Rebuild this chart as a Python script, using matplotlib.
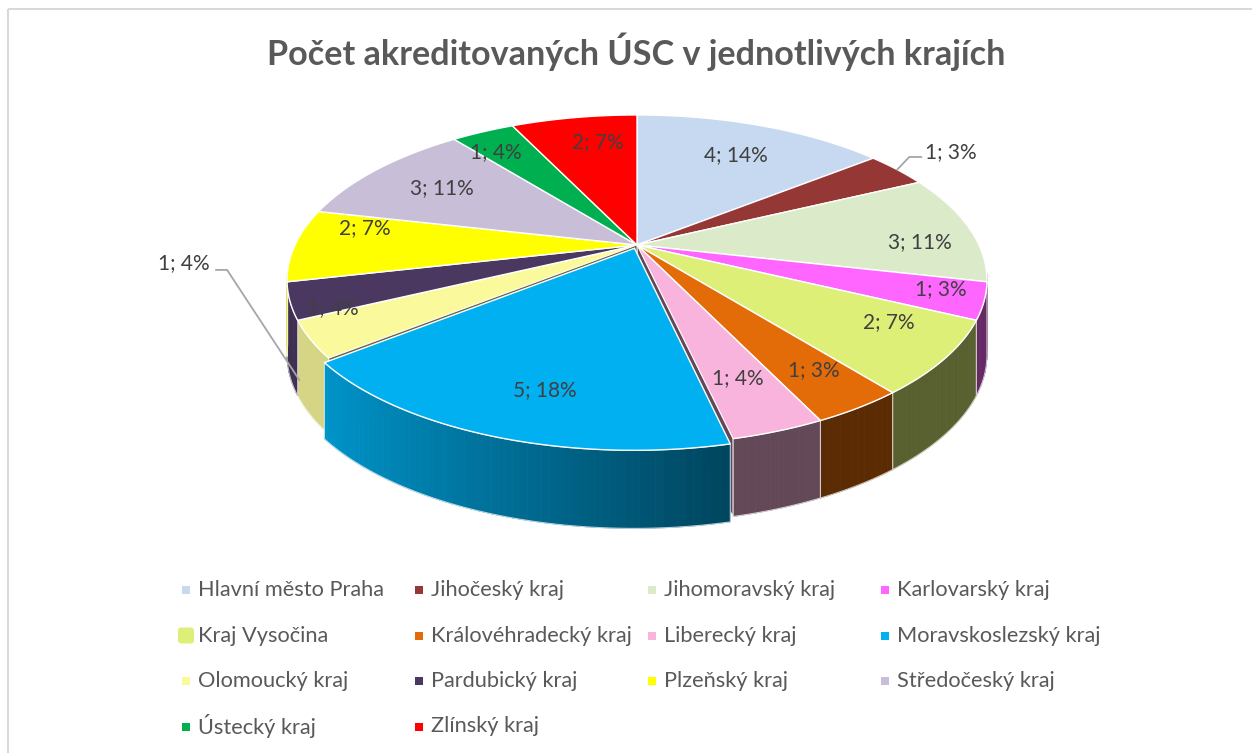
import numpy as np
import matplotlib.pyplot as plt
from matplotlib.patches import Polygon, Rectangle, FancyBboxPatch
from matplotlib.colors import to_rgb

# data
regions = ['Hlavní město Praha', 'Jihočeský kraj', 'Jihomoravský kraj', 'Karlovarský kraj',
           'Kraj Vysočina', 'Královéhradecký kraj', 'Liberecký kraj', 'Moravskoslezský kraj',
           'Olomoucký kraj', 'Pardubický kraj', 'Plzeňský kraj', 'Středočeský kraj',
           'Ústecký kraj', 'Zlínský kraj']
counts = [4, 1, 3, 1, 2, 1, 1, 5, 1, 1, 2, 3, 1, 2]
pct_shown = [14, 3, 11, 3, 7, 3, 4, 18, 4, 4, 7, 11, 4, 7]
colors = ['#C6D9F0', '#953735', '#DBEBC9', '#FF66FF', '#DEEF78', '#E36C09', '#F8B4DC',
          '#00B0F0', '#FAFA9C', '#4A3860', '#FFFF00', '#C8BED8', '#00B050', '#FF0000']
title = 'Počet akreditovaných ÚSC v jednotlivých krajích'

# layout (pixels)
W, H = 1252, 753
CX, CY = 637, 245
RX, RY = 342, 157.6
K = 0.212
T = 74
SIDE_RANGE = (99, 261)
exploded = {7: 0.022}
label_r = [0.73, 1.0, 0.83, 0.88, 0.80, 0.81, 0.76, 0.78, 1.0, 0.90, 0.82, 0.73, 0.82, 0.77]
label_da = [1, 0, 5, -2, -5, -1, 0, -3, 0, -5, 7.5, 0, -3, 3]
outside = {1: (1.176, 55.0, 'left'), 8: (1.224, 264.8, 'right')}

FONT = ['Lato', 'DejaVu Sans']
plt.rcParams['font.family'] = FONT


def proj(u, v, z=0.0):
    s = 1.0 / (1.0 - K * v)
    return CX + RX * u * s, CY + RY * v * s + z * T * (0.8 + 0.2 * s)


def rim(a_deg, r=1.0, off=(0, 0), z=0.0):
    a = np.radians(a_deg)
    return proj(off[0] + r * np.sin(a), off[1] - r * np.cos(a), z)


fig = plt.figure(figsize=(12.52, 7.53), dpi=100)
ax = fig.add_axes([0, 0, 1, 1])
ax.set_xlim(0, W)
ax.set_ylim(H, 0)
ax.axis('off')

ax.add_patch(Rectangle((8, 9), 1300, 800, fill=False, ec='#D9D9D9', lw=1.5))

total = sum(counts)
bounds = np.concatenate([[0], np.cumsum(counts)]) * 360.0 / total
offsets = []
for i in range(len(counts)):
    e = exploded.get(i, 0)
    m = np.radians((bounds[i] + bounds[i + 1]) / 2)
    offsets.append((e * np.sin(m), -e * np.cos(m)))


def side_face(i):
    off = offsets[i]
    lo, hi = max(bounds[i], SIDE_RANGE[0]), min(bounds[i + 1], SIDE_RANGE[1])
    if lo >= hi:
        return
    n = max(int(hi - lo), 2)
    angs = np.linspace(lo, hi, n + 1)
    base = np.array(to_rgb(colors[i]))
    for j in range(n):
        a0, a1 = angs[j], angs[j + 1]
        pts = [rim(a0, off=off), rim(a1, off=off), rim(a1, off=off, z=1), rim(a0, off=off, z=1)]
        um = np.sin(np.radians((a0 + a1) / 2))
        f = 0.40 + 0.45 * np.clip((0.2 - um) / 1.0, 0, 1)
        c = base * f
        ax.add_patch(Polygon(pts, closed=True, fc=c, ec=c, lw=0.6))
    outline = [rim(a, off=off) for a in angs] + [rim(a, off=off, z=1) for a in angs[::-1]]
    ax.add_patch(Polygon(outline, closed=True, fill=False, ec='white', lw=0.8, alpha=0.7))


def top_face(i):
    off = offsets[i]
    angs = np.linspace(bounds[i], bounds[i + 1], 80)
    pts = [proj(off[0], off[1])] + [rim(a, off=off) for a in angs]
    ax.add_patch(Polygon(pts, closed=True, fc=colors[i], ec='white', lw=1.0))


def cut_face(i, a):
    off = offsets[i]
    pts = [proj(off[0], off[1]), rim(a, off=off), rim(a, off=off, z=1), proj(off[0], off[1], 1)]
    c = np.array(to_rgb(colors[i])) * 0.4
    ax.add_patch(Polygon(pts, closed=True, fc=c, ec='white', lw=0.6))


normal = [i for i in range(len(counts)) if i not in exploded]
for i in normal:
    side_face(i)
for i in normal:
    top_face(i)
for e in exploded:
    cut_face(e - 1, bounds[e])
    cut_face((e + 1) % len(counts), bounds[e + 1])
    side_face(e)
    top_face(e)

# data labels
for i, (n, p) in enumerate(zip(counts, pct_shown)):
    txt = f'{n}; {p}%'
    mid = (bounds[i] + bounds[i + 1]) / 2
    if i in outside:
        r, ang, side = outside[i]
        tx, ty = rim(ang, r=r)
        ax.text(tx, ty, txt, ha=side, va='center', fontsize=15, color='#404040')
        if side == 'left':
            sx, sy = rim(mid)
            xs = [sx, tx - 16, tx - 4]
            ys = [sy, ty + 5, ty + 5]
        else:
            sx, sy = rim(bounds[i + 1] - 1, z=0.75)
            xs = [tx + 6, tx + 17, sx]
            ys = [ty + 7, ty + 7, sy]
        ax.plot(xs, ys, color='#A6A6A6', lw=1.3)
    else:
        tx, ty = rim(mid + label_da[i], r=label_r[i], off=offsets[i])
        ax.text(tx, ty, txt, ha='center', va='center', fontsize=15, color='#404040')

ax.text(636, 52, title, ha='center', va='center', fontsize=24.6, fontweight='bold', color='#595959')

# legend
for i, name in enumerate(regions):
    row, col = divmod(i, 4)
    mx = 186 + col * 233
    my = 590 + row * 45.5
    if name == 'Kraj Vysočina':
        ax.add_patch(FancyBboxPatch((mx - 8, my - 8), 16, 16, boxstyle='round,pad=0,rounding_size=3',
                                    fc=colors[i], ec='none'))
    else:
        ax.add_patch(Rectangle((mx - 4, my - 4), 8, 8, fc=colors[i], ec='none'))
    ax.text(mx + 12, my, name, ha='left', va='center', fontsize=15.7, color='#595959')

fig.savefig('out.png', dpi=100)
